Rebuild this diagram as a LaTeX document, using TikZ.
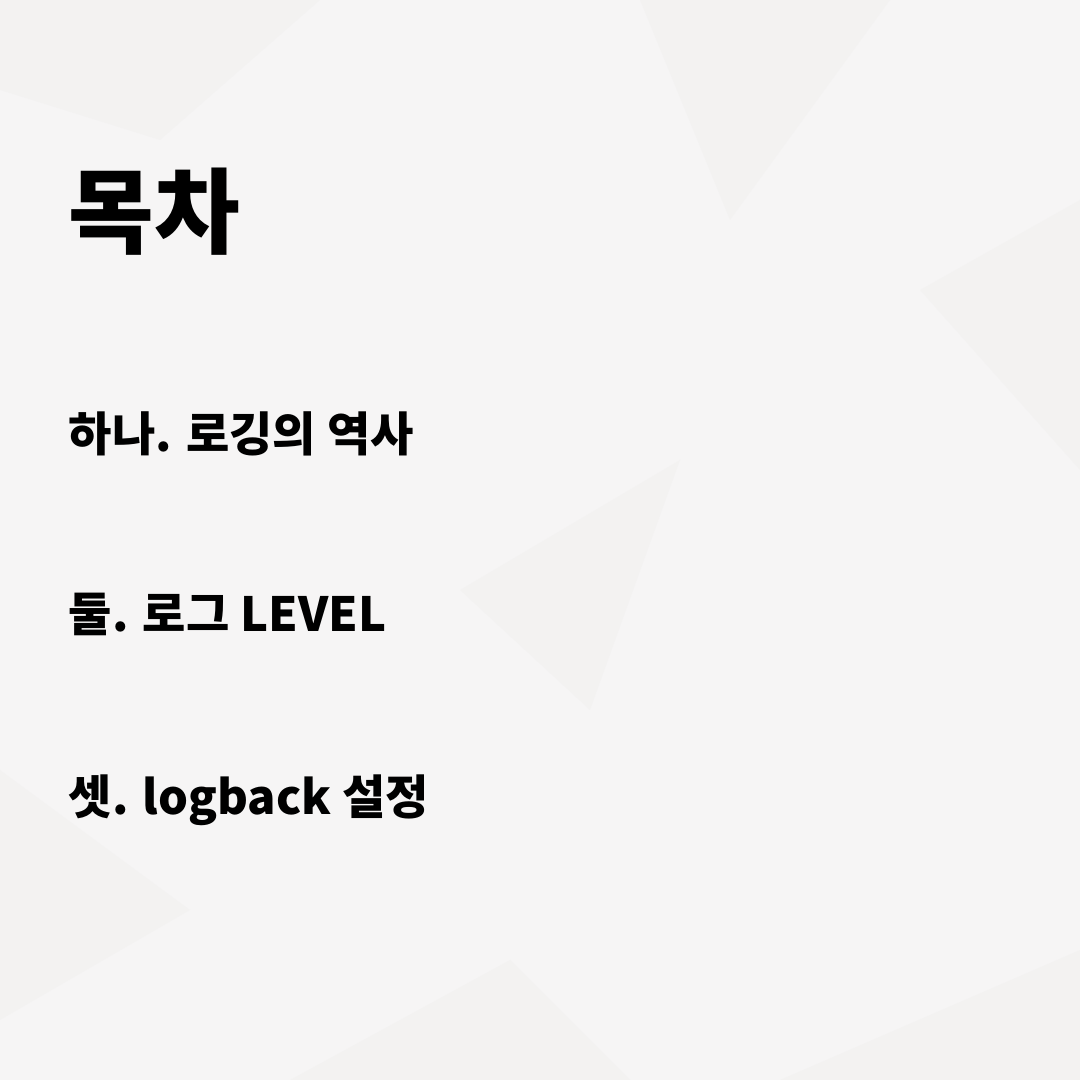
\documentclass[tikz,border=0pt]{standalone}
\usepackage{fontspec}
\newfontfamily\cjk{Noto Sans CJK KR}
\usetikzlibrary{positioning}
\definecolor{paper}{HTML}{F6F5F5}
\definecolor{crease}{HTML}{EEEDEC}
\begin{document}
\begin{tikzpicture}
			[
				title/.style = {anchor = west, inner sep = 0pt, font = \cjk\bfseries\fontsize{26.5}{31}\selectfont},
				item/.style = {inner sep = 0pt, font = \cjk\bfseries\fontsize{13.4}{16}\selectfont},
				facet/.style = {fill = crease, draw = none, opacity = 0.35},
			]
			% paper
			\fill[paper] (0,0) rectangle (10.8,10.8);
			\useasboundingbox (0,0) rectangle (10.8,10.8);
			\fill[facet] (0,10.8) -- (3.2,10.8) -- (1.6,9.4) -- (0,9.9) -- cycle;
			\fill[facet] (6.4,10.8) -- (8.9,10.8) -- (7.3,8.6) -- cycle;
			\fill[facet] (9.2,7.9) -- (10.8,8.8) -- (10.8,6.1) -- cycle;
			\fill[facet] (4.6,4.9) -- (6.8,6.2) -- (5.9,3.7) -- cycle;
			\fill[facet] (0,3.1) -- (1.9,1.7) -- (0,0.6) -- cycle;
			\fill[facet] (7.8,0) -- (10.8,1.3) -- (10.8,0) -- cycle;
			\fill[facet] (2.9,0) -- (5.1,1.2) -- (6.3,0) -- cycle;
			% contents
			\node (title) [title] at (0.68,8.68) {목차};
			\node (hana) [item, anchor = base west] at (0.68,6.28) {하나. 로깅의 역사};
			\node (dul) [item, below = 1.8cm of hana.base west, anchor = base west] {둘. 로그 LEVEL};
			\node (set) [item, below = 1.83cm of dul.base west, anchor = base west] {셋. logback 설정};
		\end{tikzpicture}
\end{document}
